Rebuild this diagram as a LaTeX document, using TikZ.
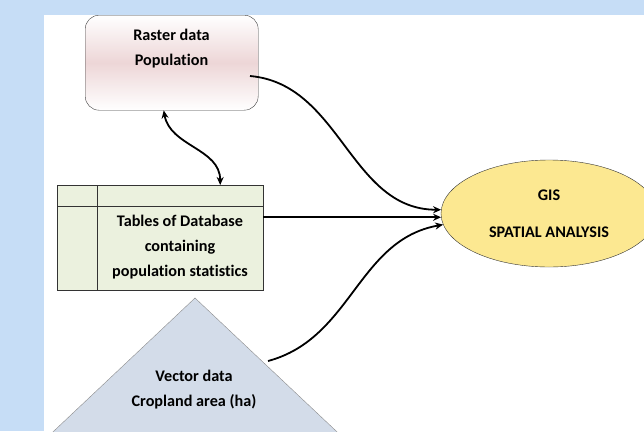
\documentclass[tikz,border=0pt]{standalone}
\usepackage{fontspec}
\setmainfont{Carlito}[Ligatures=NoCommon]
\usetikzlibrary{positioning,arrows.meta,shapes.geometric}
\definecolor{skyblue}{HTML}{C6DDF6}
\definecolor{rasterpink}{HTML}{EDD6D7}
\definecolor{tablegreen}{HTML}{EBF1DE}
\definecolor{gisyellow}{HTML}{FCE891}
\definecolor{vectorblue}{HTML}{D3DCE9}
\begin{document}
\begin{tikzpicture}[x=1pt, y=1pt, >={Stealth[length=8pt,width=7pt]}, font=\bfseries\fontsize{16.2}{25}\selectfont]
    \tikzstyle{link}=[->, line width=1.8pt]
    \tikzstyle{lbl}=[align=center, inner sep=0pt]

    \clip (0,0) rectangle (644,-431);
    \fill[skyblue] (0,0) rectangle (644,-431);
    \fill[white] (44,-15) rectangle (644,-431);

    % sources
    \node[draw=black!75, rounded corners=14pt, minimum width=173pt, minimum height=95pt, top color=white, bottom color=white, middle color=rasterpink, anchor=north west] (raster) at (85,-15) {};
    \node[lbl] (rastertext) at (171.5,-48.5) {Raster data\\Population};

    \node[draw=black!80, fill=tablegreen, minimum width=206pt, minimum height=105pt, anchor=north west] (dbtable) at (57,-185) {};
    \draw[black!80] ([xshift=40pt]dbtable.north west) -- ([xshift=40pt]dbtable.south west);
    \draw[black!80] ([yshift=-21pt]dbtable.north west) -- ([yshift=-21pt]dbtable.north east);
    \node[lbl] (tabletext) at (180,-247) {Tables of Database\\containing\\population statistics};

    \fill[vectorblue, draw=black!45] (195,-298) -- (352,-446) -- (38,-446) -- cycle;
    \coordinate (vecout) at (268,-361);
    \node[lbl] (vectortext) at (194,-389.5) {Vector data\\Cropland area (ha)};

    % target
    \node[draw=black!80, fill=gisyellow, ellipse, minimum width=216pt, minimum height=107pt, align=center, inner sep=0pt] (gis) at (549,-213.5) {GIS\\[12pt]SPATIAL ANALYSIS};

    % links
    \coordinate (rasterout) at (250,-76);
    \draw[link] (rasterout) to[out=-5, in=180] (gis.178);
    \draw[link] (dbtable.east |- gis.182.5) -- (gis.182.5);
    \draw[link] (vecout) to[out=15, in=190] (gis.186);
    \draw[<->, line width=1.8pt] ([xshift=-8pt]raster.south) to[out=-80, in=90] ([xshift=60pt]dbtable.north);
\end{tikzpicture}
\end{document}
